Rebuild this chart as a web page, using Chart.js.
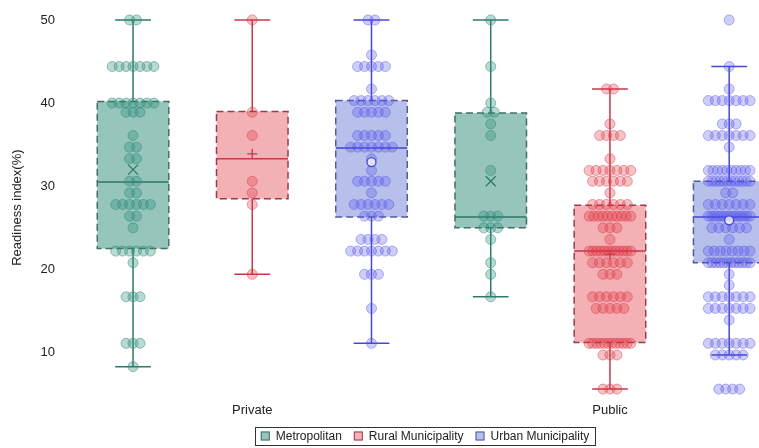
<!DOCTYPE html>
<html lang="en">
<head>
<meta charset="UTF-8" />
<title>Readiness index</title>
<script src="https://cdn.jsdelivr.net/npm/chart.js"></script>
<style>
  * { margin: 0; padding: 0; box-sizing: border-box; }
  body { background: #ffffff; }
  .wrap { position: relative; width: 759px; height: 448px; }
</style>
</head>
<body>
<div class="wrap"><canvas id="readinessChart"></canvas></div>
<script>
  const hues = ['Metropolitan', 'Rural Municipality', 'Urban Municipality'];
  const sectors = ['Private', 'Public'];

  // box order: Metro-Private, Rural-Private, Urban-Private, Metro-Public, Rural-Public, Urban-Public
  const whiskerLow  = [8.3, 19.4, 11.1, 16.7, 5.6, 9.7];
  const q1          = [22.5, 28.5, 26.3, 25.0, 11.2, 20.8];
  const median      = [30.5, 33.3, 34.6, 26.3, 22.2, 26.3];
  const q3          = [40.2, 39.0, 40.3, 38.8, 27.7, 30.6];
  const whiskerHigh = [50, 50, 50, 50, 41.7, 44.4];
  const means       = [32.0, 33.9, 32.9, 30.6, 21.8, 25.9];

  // individual points as [value, how many at that value]
  const metroPrivate = [[50,2],[44.4,7],[40,7],[38.9,3],[36.1,1],[34.7,2],[33.3,2],[30.6,2],[29.2,2],[27.8,6],[26.4,2],[25,1],[22.2,6],[20.8,1],[16.7,3],[11.1,3],[8.3,1]];
  const ruralPrivate = [[50,1],[38.9,1],[36.1,1],[30.6,1],[29.2,1],[27.8,1],[19.4,1]];
  const urbanPrivate = [[50,2],[45.8,1],[44.4,5],[41.7,1],[40.3,6],[38.9,5],[36.1,5],[34.7,7],[33.3,1],[31.9,1],[30.6,5],[29.2,1],[27.8,6],[26.4,3],[23.6,4],[22.2,7],[19.4,3],[15.3,1],[11.1,1]];
  const metroPublic  = [[50,1],[44.4,1],[40,1],[38.9,2],[37.5,1],[36.1,1],[31.9,1],[26.4,3],[25,3],[23.6,1],[20.8,1],[19.4,1],[16.7,1]];
  const ruralPublic  = [[41.7,2],[37.5,1],[36.1,4],[33.3,1],[31.9,7],[30.6,6],[29.2,1],[27.8,6],[26.4,10],[25,3],[23.6,1],[22.2,12],[20.8,6],[19.4,3],[16.7,6],[15.3,5],[11.1,12],[9.7,3],[5.6,3]];
  const urbanPublic  = [[50,1],[44.4,1],[41.7,1],[40.3,7],[37.5,3],[36.1,7],[34.7,1],[31.9,10],[30.6,12],[29.2,2],[27.8,7],[26.4,14],[25,6],[23.6,1],[22.2,8],[20.8,12],[19.4,1],[18.1,1],[16.7,7],[15.3,7],[13.9,1],[11.1,7],[9.7,5],[5.6,4]];

  const yTicks = [10, 20, 30, 40, 50];

  const boxFill   = ['rgba(46,139,120,0.5)', 'rgba(225,60,70,0.4)', 'rgba(75,95,205,0.4)'];
  const boxEdge   = ['#3f6f66', '#9c3a46', '#555a9c'];
  const lineColor = ['#2e7a6b', '#c23a4e', '#4747cf'];
  const ptFill    = ['rgba(46,139,120,0.33)', 'rgba(222,52,66,0.3)', 'rgba(80,80,235,0.28)'];
  const ptEdge    = ['rgba(46,139,120,0.5)', 'rgba(222,52,66,0.45)', 'rgba(80,80,235,0.42)'];

  const BOX_W = 0.6;
  const STEP = 7 / 120;      // horizontal gap between swarm points
  const MAX_HALF = 21 / 120; // rows wider than this get squeezed

  function swarm(rows, center) {
    const out = [];
    rows.forEach(([v, n]) => {
      const step = n > 1 ? Math.min(STEP, 2 * MAX_HALF / (n - 1)) : 0;
      for (let k = 0; k < n; k++) out.push({ x: center + (k - (n - 1) / 2) * step, y: v });
    });
    return out;
  }

  const pointSets = [[metroPrivate, metroPublic], [ruralPrivate, ruralPublic], [urbanPrivate, urbanPublic]];

  const datasets = hues.map((h, i) => ({
    label: h,
    data: swarm(pointSets[i][0], i).concat(swarm(pointSets[i][1], 3 + i)),
    backgroundColor: ptFill[i],
    borderColor: ptEdge[i],
    borderWidth: 1,
    pointRadius: 5,
    pointHoverRadius: 5,
    clip: 8
  }));

  // boxes, whiskers and medians under the points
  const boxPlugin = {
    id: 'boxes',
    beforeDatasetsDraw(chart) {
      const { ctx, chartArea, scales: { x, y } } = chart;
      ctx.save();
      ctx.beginPath();
      ctx.rect(chartArea.left, chartArea.top - 5, chartArea.width + 10, chartArea.height + 5);
      ctx.clip();
      for (let b = 0; b < 6; b++) {
        const h = b % 3;
        const cx = x.getPixelForValue(b);
        const half = x.getPixelForValue(b + BOX_W / 2) - cx;
        const top = y.getPixelForValue(q3[b]);
        const bot = y.getPixelForValue(q1[b]);

        ctx.fillStyle = boxFill[h];
        ctx.fillRect(cx - half, top, half * 2, bot - top);

        ctx.strokeStyle = lineColor[h];
        ctx.lineWidth = 1.5;
        ctx.setLineDash([]);
        ctx.beginPath();
        ctx.moveTo(cx, top); ctx.lineTo(cx, y.getPixelForValue(whiskerHigh[b]));
        ctx.moveTo(cx, bot); ctx.lineTo(cx, y.getPixelForValue(whiskerLow[b]));
        [whiskerHigh[b], whiskerLow[b]].forEach(v => {
          const py = y.getPixelForValue(v);
          ctx.moveTo(cx - half / 2, py); ctx.lineTo(cx + half / 2, py);
        });
        const my = y.getPixelForValue(median[b]);
        ctx.moveTo(cx - half, my); ctx.lineTo(cx + half, my);
        ctx.stroke();

        ctx.strokeStyle = boxEdge[h];
        ctx.setLineDash([7, 4]);
        ctx.strokeRect(cx - half, top, half * 2, bot - top);
      }
      ctx.restore();
    },
    afterDatasetsDraw(chart) {
      const { ctx, scales: { x, y } } = chart;
      ctx.save();
      ctx.setLineDash([]);
      ctx.lineWidth = 1.3;
      for (let b = 0; b < 6; b++) {
        const h = b % 3;
        const cx = x.getPixelForValue(b);
        const py = y.getPixelForValue(means[b]);
        const s = 5;
        ctx.strokeStyle = lineColor[h];
        ctx.beginPath();
        if (h === 0) {
          ctx.moveTo(cx - s, py - s); ctx.lineTo(cx + s, py + s);
          ctx.moveTo(cx + s, py - s); ctx.lineTo(cx - s, py + s);
        } else if (h === 1) {
          ctx.moveTo(cx - s, py); ctx.lineTo(cx + s, py);
          ctx.moveTo(cx, py - s); ctx.lineTo(cx, py + s);
        } else {
          ctx.arc(cx, py, 4.5, 0, Math.PI * 2);
          ctx.fillStyle = 'rgba(255,255,255,0.7)';
          ctx.fill();
        }
        ctx.stroke();
      }
      ctx.restore();
    }
  };

  // framed legend under the axis
  const legendPlugin = {
    id: 'framedLegend',
    afterDraw(chart) {
      const { ctx } = chart;
      ctx.save();
      ctx.font = "12px 'Liberation Sans', Arial, sans-serif";
      ctx.textBaseline = 'middle';
      const sq = 9, gapText = 6, gapItem = 12, pad = 6;
      const widths = hues.map(h => sq + gapText + ctx.measureText(h).width);
      const total = widths.reduce((a, b) => a + b, 0) + gapItem * (hues.length - 1) + pad * 2;
      const cxL = 425, cy = 436;
      let left = cxL - total / 2;
      ctx.strokeStyle = '#333';
      ctx.lineWidth = 1;
      ctx.strokeRect(Math.round(left) + 0.5, cy - 9 + 0.5, Math.round(total), 18);
      let px = left + pad;
      hues.forEach((h, i) => {
        ctx.fillStyle = '#fff';
        ctx.fillRect(px, cy - sq / 2, sq, sq);
        ctx.fillStyle = boxFill[i];
        ctx.fillRect(px, cy - sq / 2, sq, sq);
        ctx.strokeStyle = boxEdge[i];
        ctx.strokeRect(px + 0.5, cy - sq / 2 + 0.5, sq - 1, sq - 1);
        ctx.fillStyle = '#222';
        ctx.fillText(h, px + sq + gapText, cy + 0.5);
        px += widths[i] + gapItem;
      });
      ctx.restore();
    }
  };

  Chart.defaults.font.family = "'Liberation Sans', Arial, sans-serif";
  Chart.defaults.font.size = 13;
  Chart.defaults.color = '#222';

  new Chart(document.getElementById('readinessChart'), {
    type: 'scatter',
    data: { datasets },
    options: {
      responsive: true,
      maintainAspectRatio: false,
      animation: false,
      layout: { autoPadding: false, padding: { left: 6, right: 0, top: 0, bottom: 25 } },
      plugins: {
        legend: { display: false },
        tooltip: { enabled: false }
      },
      scales: {
        x: {
          type: 'linear',
          min: -0.57,
          max: 5.25,
          grid: { display: false, drawTicks: false },
          border: { display: false },
          afterBuildTicks: axis => { axis.ticks = [{ value: 1 }, { value: 4 }]; },
          ticks: {
            padding: 5,
            callback: v => v === 1 ? sectors[0] : sectors[1]
          }
        },
        y: {
          min: 4.6,
          max: 50.26,
          grid: { display: false, drawTicks: false },
          border: { display: false },
          afterBuildTicks: axis => { axis.ticks = yTicks.map(v => ({ value: v })); },
          ticks: { padding: 10 },
          title: {
            display: true,
            text: 'Readiness index(%)',
            font: { size: 13 },
            padding: { top: 4, bottom: 5 }
          }
        }
      }
    },
    plugins: [boxPlugin, legendPlugin]
  });
</script>
</body>
</html>
